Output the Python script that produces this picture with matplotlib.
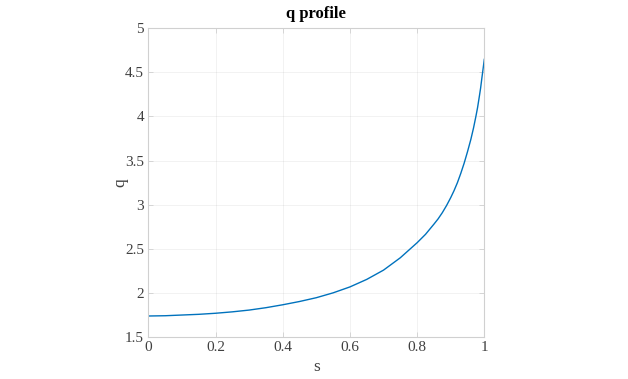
import matplotlib
matplotlib.use("Agg")
import matplotlib.pyplot as plt

# values
s = [0.0, 0.05, 0.1, 0.15, 0.2, 0.25, 0.3, 0.35, 0.4, 0.45, 0.5, 0.55, 0.6,
     0.65, 0.7, 0.75, 0.8, 0.825, 0.85, 0.8625, 0.875, 0.8875, 0.9, 0.91,
     0.92, 0.93, 0.94, 0.95, 0.96, 0.968, 0.975, 0.98, 0.985, 0.989, 0.993,
     0.997, 1.0]
q = [1.741, 1.744, 1.752, 1.760, 1.772, 1.788, 1.808, 1.835, 1.868, 1.905,
     1.948, 2.003, 2.07, 2.155, 2.26, 2.40, 2.57, 2.665, 2.78, 2.84, 2.91,
     2.99, 3.08, 3.16, 3.25, 3.355, 3.47, 3.6, 3.74, 3.87, 4.0, 4.1, 4.22,
     4.32, 4.44, 4.555, 4.645]

xticks = [0, 0.2, 0.4, 0.6, 0.8, 1]
xticklabels = ["0", "0.2", "0.4", "0.6", "0.8", "1"]
yticks = [1.5, 2, 2.5, 3, 3.5, 4, 4.5, 5]
yticklabels = ["1.5", "2", "2.5", "3", "3.5", "4", "4.5", "5"]

plt.rcParams['font.family'] = ['Liberation Serif', 'DejaVu Serif']
text_col = '#404040'
edge_col = '#d0d0d0'

fig = plt.figure(figsize=(6.28, 3.79), dpi=100)
ax = fig.add_axes([148.3 / 628, 41.7 / 379, 336 / 628, 309.3 / 379])

ax.plot(s, q, color='#0072BD', linewidth=1.0)

ax.set_xlim(0, 1)
ax.set_ylim(1.5, 5)
ax.set_xticks(xticks)
ax.set_xticklabels(xticklabels)
ax.set_yticks(yticks)
ax.set_yticklabels(yticklabels)

ax.grid(True, color='#262626', alpha=0.07, linewidth=0.6)
ax.tick_params(direction='in', length=3.5, width=0.6, color=edge_col,
               labelcolor=text_col, labelsize=11, top=True, right=True, pad=3)
for sp in ax.spines.values():
    sp.set_color(edge_col)
    sp.set_linewidth(0.8)

ax.set_xlabel('s', fontsize=12.5, color=text_col, labelpad=3)
ax.set_ylabel('q', fontsize=12.5, color=text_col, labelpad=-2)
ax.set_title('q profile', fontsize=12, fontweight='bold', color='black', pad=7)

fig.savefig('out.png', dpi=100)
